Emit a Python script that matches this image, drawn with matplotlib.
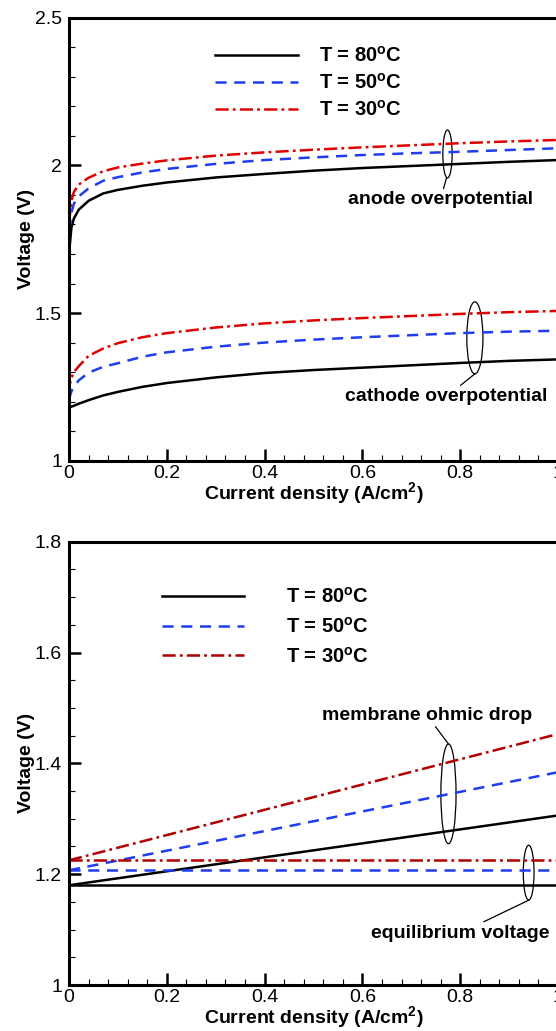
import matplotlib
matplotlib.use('Agg')
import matplotlib.pyplot as plt
from matplotlib.patches import Ellipse
from matplotlib.ticker import MultipleLocator

plt.rcParams['font.family'] = ['Liberation Sans', 'DejaVu Sans']
plt.rcParams['mathtext.fontset'] = 'custom'
plt.rcParams['mathtext.rm'] = 'Liberation Sans'
plt.rcParams['mathtext.bf'] = 'Liberation Sans:bold'
plt.rcParams['lines.scale_dashes'] = False

# ---------------- data ----------------
current = [0.0, 0.001, 0.005, 0.01, 0.02, 0.04, 0.07, 0.1, 0.15, 0.2,
           0.3, 0.4, 0.5, 0.6, 0.7, 0.8, 0.9, 1.0]

anode_80 = [1.18, 1.72, 1.79, 1.82, 1.85, 1.88, 1.905, 1.917, 1.931, 1.942,
            1.959, 1.971, 1.982, 1.991, 1.998, 2.005, 2.012, 2.018]
anode_50 = [1.207, 1.78, 1.84, 1.87, 1.895, 1.922, 1.948, 1.960, 1.976, 1.988,
            2.005, 2.018, 2.027, 2.035, 2.041, 2.046, 2.052, 2.058]
anode_30 = [1.225, 1.82, 1.88, 1.91, 1.935, 1.958, 1.980, 1.993, 2.006, 2.017,
            2.033, 2.044, 2.053, 2.061, 2.068, 2.075, 2.081, 2.086]

cathode_80 = [1.18, 1.181, 1.183, 1.186, 1.193, 1.205, 1.221, 1.233, 1.250, 1.263,
              1.282, 1.297, 1.307, 1.315, 1.323, 1.331, 1.338, 1.343]
cathode_50 = [1.207, 1.215, 1.235, 1.250, 1.272, 1.298, 1.318, 1.330, 1.352, 1.367,
              1.386, 1.400, 1.410, 1.418, 1.425, 1.432, 1.437, 1.440]
cathode_30 = [1.225, 1.255, 1.280, 1.300, 1.320, 1.355, 1.380, 1.398, 1.418, 1.432,
              1.451, 1.465, 1.475, 1.483, 1.490, 1.497, 1.503, 1.507]

line_current = [0.0, 1.0]
equilibrium_80 = [1.18, 1.18]
equilibrium_50 = [1.207, 1.207]
equilibrium_30 = [1.225, 1.225]
ohmic_80 = [1.18, 1.306]
ohmic_50 = [1.207, 1.384]
ohmic_30 = [1.225, 1.453]

legend_labels = [r'T = 80$^\mathbf{o}$C', r'T = 50$^\mathbf{o}$C', r'T = 30$^\mathbf{o}$C']
xticks = [0, 0.2, 0.4, 0.6, 0.8, 1]
xtick_labels = ['0', '0.2', '0.4', '0.6', '0.8', '1']
top_yticks = [1, 1.5, 2, 2.5]
top_ytick_labels = ['1', '1.5', '2', '2.5']
bot_yticks = [1, 1.2, 1.4, 1.6, 1.8]
bot_ytick_labels = ['1', '1.2', '1.4', '1.6', '1.8']

# ---------------- styles ----------------
BLACK = 'black'
BLUE = '#1e3cf0'
RED_TOP = '#e00000'
RED_BOT = '#b00000'
LW = 1.8
DASH = (0, (8, 5.5))
DASHDOT = (0, (9.5, 3, 2, 3))
LEG_SIZE = 14.5
ANN_SIZE = 14

W, H = 556, 1031
fig = plt.figure(figsize=(W / 100, H / 100), dpi=100)
ax1 = fig.add_axes([69 / W, (H - 460.7) / H, 489 / W, 443 / H])
ax2 = fig.add_axes([69 / W, (H - 985) / H, 489 / W, 443.3 / H])


def style_axes(ax, ylim, yticks, ylabels, yminor, xlabelpad):
    ax.set_xlim(0, 1)
    ax.set_ylim(*ylim)
    ax.set_xticks(xticks)
    ax.set_xticklabels(xtick_labels)
    ax.set_yticks(yticks)
    ax.set_yticklabels(ylabels)
    ax.xaxis.set_minor_locator(MultipleLocator(0.04))
    ax.yaxis.set_minor_locator(MultipleLocator(yminor))
    ax.tick_params(which='major', direction='in', length=8.5, width=1.8,
                   labelsize=14, top=False, right=False, pad=4)
    ax.tick_params(which='minor', direction='in', length=4.5, width=0.8,
                   top=False, right=False)
    ax.tick_params(axis='x', which='major', pad=3)
    ax.tick_params(axis='y', which='major', pad=5)
    for s in ['left', 'bottom', 'top']:
        ax.spines[s].set_linewidth(2.2)
    ax.spines['right'].set_visible(False)
    ax.set_xlabel(r'Current density (A/cm$^\mathbf{2}$)', fontsize=14,
                  fontweight='bold', labelpad=xlabelpad)
    ax.set_ylabel('Voltage (V)', fontsize=14, fontweight='bold', labelpad=0)


# ---------------- top panel ----------------
l1, = ax1.plot(current, anode_80, color=BLACK, lw=LW, ls='-')
l2, = ax1.plot(current, anode_50, color=BLUE, lw=LW, ls=DASH)
l3, = ax1.plot(current, anode_30, color=RED_TOP, lw=LW, ls=DASHDOT)
ax1.plot(current, cathode_80, color=BLACK, lw=LW, ls='-')
ax1.plot(current, cathode_50, color=BLUE, lw=LW, ls=DASH)
ax1.plot(current, cathode_30, color=RED_TOP, lw=LW, ls=DASHDOT)
style_axes(ax1, (1, 2.5), top_yticks, top_ytick_labels, 0.1, -1)

leg1 = ax1.legend([l1, l2, l3], legend_labels, loc='upper left',
                  bbox_to_anchor=(0.299, 0.937), frameon=False,
                  prop={'weight': 'bold', 'size': LEG_SIZE}, handlelength=4.1,
                  handletextpad=1.05, labelspacing=0.36, borderpad=0,
                  borderaxespad=0)

ax1.add_patch(Ellipse((0.774, 2.0386), 0.019, 0.1625, fill=False, lw=0.9, ec='black'))
ax1.annotate('anode overpotential', xy=(0.772, 1.957), xytext=(0.759, 1.883),
             ha='center', va='center', fontsize=ANN_SIZE, fontweight='bold',
             arrowprops=dict(arrowstyle='-', lw=0.9, color='black', shrinkA=0, shrinkB=0))
ax1.add_patch(Ellipse((0.83, 1.416), 0.033, 0.244, fill=False, lw=0.9, ec='black'))
ax1.annotate('cathode overpotential', xy=(0.83, 1.294), xytext=(0.772, 1.217),
             ha='center', va='center', fontsize=ANN_SIZE, fontweight='bold',
             arrowprops=dict(arrowstyle='-', lw=0.9, color='black', shrinkA=0, shrinkB=0))

# ---------------- bottom panel ----------------
m1, = ax2.plot(line_current, ohmic_80, color=BLACK, lw=LW, ls='-')
m2, = ax2.plot(line_current, ohmic_50, color=BLUE, lw=LW, ls=DASH)
m3, = ax2.plot(line_current, ohmic_30, color=RED_BOT, lw=LW, ls=DASHDOT)
ax2.plot(line_current, equilibrium_80, color=BLACK, lw=LW, ls='-')
ax2.plot(line_current, equilibrium_50, color=BLUE, lw=LW, ls=DASH)
ax2.plot(line_current, equilibrium_30, color=RED_BOT, lw=LW, ls=DASHDOT)
style_axes(ax2, (1, 1.8), bot_yticks, bot_ytick_labels, 0.05, -1)

leg2 = ax2.legend([m1, m2, m3], legend_labels, loc='upper left',
                  bbox_to_anchor=(0.19, 0.898), frameon=False,
                  prop={'weight': 'bold', 'size': LEG_SIZE}, handlelength=4.1,
                  handletextpad=2.05, labelspacing=0.48, borderpad=0,
                  borderaxespad=0)

ax2.add_patch(Ellipse((0.776, 1.345), 0.031, 0.18, fill=False, lw=0.9, ec='black'))
ax2.annotate('membrane ohmic drop', xy=(0.776, 1.435), xytext=(0.732, 1.4865),
             ha='center', va='center', fontsize=ANN_SIZE, fontweight='bold',
             arrowprops=dict(arrowstyle='-', lw=0.9, color='black', shrinkA=0, shrinkB=0))
ax2.add_patch(Ellipse((0.94, 1.2027), 0.022, 0.099, fill=False, lw=0.9, ec='black'))
ax2.annotate('equilibrium voltage', xy=(0.94, 1.153), xytext=(0.80, 1.0937),
             ha='center', va='center', fontsize=ANN_SIZE, fontweight='bold',
             arrowprops=dict(arrowstyle='-', lw=0.9, color='black', shrinkA=0, shrinkB=0))

fig.savefig('out.png', dpi=100)
